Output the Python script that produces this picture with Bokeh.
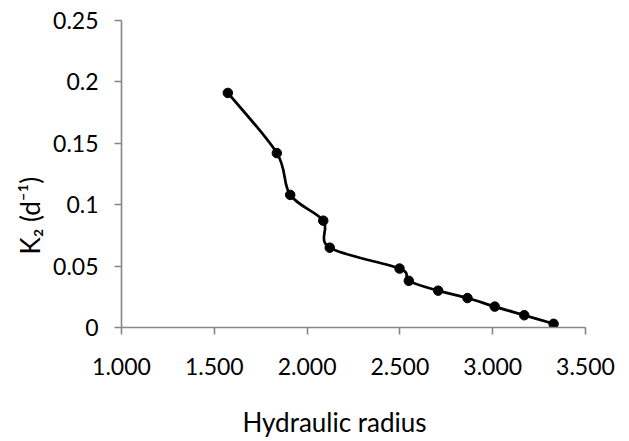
from bokeh.plotting import figure
from bokeh.models import Range1d, FixedTicker, CustomJSTickFormatter, ColumnDataSource, Title
from bokeh.embed import file_html
from bokeh.resources import INLINE

# Data
hydraulic_radius = [1.573, 1.837, 1.909, 2.087, 2.122, 2.498, 2.548, 2.706, 2.864, 3.011, 3.170, 3.328]
k2 = [0.191, 0.142, 0.108, 0.087, 0.065, 0.048, 0.038, 0.030, 0.024, 0.017, 0.010, 0.003]
x_ticks = [1.0, 1.5, 2.0, 2.5, 3.0, 3.5]
y_ticks = [0, 0.05, 0.1, 0.15, 0.2, 0.25]
x_title = "Hydraulic radius"
y_title = "K₂ (d⁻¹)"

FONT = "Lato"
TXT = "#000000"
AX = "#868686"

p = figure(frame_width=464, frame_height=307, output_backend="svg", toolbar_location=None,
           x_range=Range1d(1.0, 3.5), y_range=Range1d(0, 0.25),
           min_border_left=121, min_border_right=35, min_border_top=20, min_border_bottom=0)
p.outline_line_color = None
p.grid.visible = False
p.background_fill_color = "white"
p.border_fill_color = "white"

# Smoothed line (Catmull-Rom style Bezier segments between the data points)
n = len(hydraulic_radius)
x0s, y0s, x1s, y1s, cx0, cy0, cx1, cy1 = [], [], [], [], [], [], [], []
for i in range(n - 1):
    xp = hydraulic_radius[max(i - 1, 0)]; yp = k2[max(i - 1, 0)]
    xa = hydraulic_radius[i]; ya = k2[i]
    xb = hydraulic_radius[i + 1]; yb = k2[i + 1]
    xn = hydraulic_radius[min(i + 2, n - 1)]; yn = k2[min(i + 2, n - 1)]
    x0s.append(xa); y0s.append(ya); x1s.append(xb); y1s.append(yb)
    cx0.append(xa + (xb - xp) / 6); cy0.append(ya + (yb - yp) / 6)
    cx1.append(xb - (xn - xa) / 6); cy1.append(yb - (yn - ya) / 6)
p.bezier(x0=x0s, y0=y0s, x1=x1s, y1=y1s, cx0=cx0, cy0=cy0, cx1=cx1, cy1=cy1,
         line_color="black", line_width=2.7)

src = ColumnDataSource(dict(x=hydraulic_radius, y=k2))
p.scatter("x", "y", source=src, size=9.5, fill_color="black", line_color="black")

p.xaxis.ticker = FixedTicker(ticks=x_ticks)
p.yaxis.ticker = FixedTicker(ticks=y_ticks)
p.xaxis.formatter = CustomJSTickFormatter(code="return tick.toFixed(3);")
p.yaxis.formatter = CustomJSTickFormatter(code="return String(Math.round(tick*100)/100);")

for ax in (p.xaxis[0], p.yaxis[0]):
    ax.axis_line_color = AX
    ax.axis_line_width = 1.6
    ax.major_tick_line_color = AX
    ax.major_tick_line_width = 1.6
    ax.major_tick_out = 7
    ax.major_tick_in = 0
    ax.minor_tick_line_color = None
    ax.major_label_text_font = FONT
    ax.major_label_text_font_size = "23px"
    ax.major_label_text_color = TXT

p.xaxis.major_label_standoff = 23
p.yaxis.major_label_standoff = 16

# Axis titles (offset from the frame edge as in the reference)
p.add_layout(Title(text=x_title, align="left", offset=121, standoff=53,
                   text_font=FONT, text_font_size="26px", text_font_style="normal",
                   text_color=TXT), "below")
p.add_layout(Title(text=y_title, align="left", offset=73, standoff=10,
                   text_font=FONT, text_font_size="26px", text_font_style="normal",
                   text_color=TXT), "left")

open("out.html", "w").write(file_html(p, INLINE))
